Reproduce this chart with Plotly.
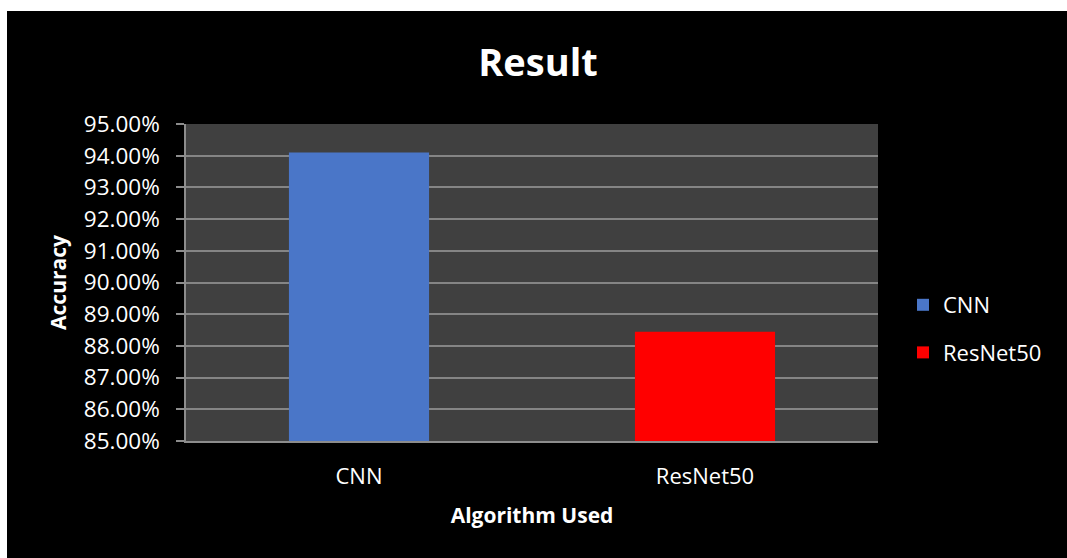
import plotly.graph_objects as go

categories = ["CNN", "ResNet50"]
accuracy = [0.941, 0.8845]
colors = ["#4a76c8", "#ff0000"]
y_ticks = [0.85, 0.86, 0.87, 0.88, 0.89, 0.90, 0.91, 0.92, 0.93, 0.94, 0.95]

W, H = 1067, 558
L, R, T, B = 186, 1067 - 878, 124, 558 - 441
pw, ph = W - L - R, H - T - B

FONT = "Open Sans"

fig = go.Figure()
for i, (c, v) in enumerate(zip(categories, accuracy)):
    fig.add_trace(go.Bar(
        x=[c], y=[v], name=c, marker=dict(color=colors[i], line=dict(width=0)),
        width=0.405, legendgroup=c,
    ))

def px2x(p):
    return (p - L) / pw

def px2y(p):
    return (H - B - p) / ph

# white frame strips (top & left) around the black chart area
fig.add_shape(type="rect", xref="paper", yref="paper", x0=px2x(0), x1=px2x(W), y0=px2y(0), y1=px2y(11),
              fillcolor="white", line=dict(width=0), layer="above")
fig.add_shape(type="rect", xref="paper", yref="paper", x0=px2x(0), x1=px2x(7), y0=px2y(0), y1=px2y(H),
              fillcolor="white", line=dict(width=0), layer="above")

fig.update_layout(
    width=W, height=H,
    margin=dict(l=L, r=R, t=T, b=B),
    paper_bgcolor="black", plot_bgcolor="#404040",
    barmode="overlay",
    font=dict(family=FONT, color="white", size=20),
    title=dict(text="<b>Result</b>", x=538 / W, xanchor="center", y=1 - 63 / H, yanchor="middle",
               font=dict(size=38, family=FONT, color="white")),
    legend=dict(x=px2x(903), xanchor="left", y=px2y(329), yanchor="middle",
                font=dict(size=22, family=FONT, color="white"), tracegroupgap=16,
                bgcolor="rgba(0,0,0,0)", itemwidth=30),
    showlegend=True,
)
fig.update_xaxes(
    showgrid=False, showline=True, linecolor="#8c8c8c", linewidth=1.5,
    ticks="", ticklabelstandoff=15, tickfont=dict(size=22, color="white"),
    title=dict(text="<b>Algorithm Used</b>", font=dict(size=21, color="white"), standoff=19),
)
fig.update_yaxes(
    range=[0.85, 0.95], tickvals=y_ticks, tickformat=".2%",
    showgrid=True, gridcolor="#858585", gridwidth=1.5,
    showline=True, linecolor="#8c8c8c", linewidth=1.5,
    ticks="outside", ticklen=8, tickcolor="#8c8c8c", tickwidth=1.5,
    ticklabelstandoff=12, tickfont=dict(size=22.5, color="white"),
    title=dict(text="<b>Accuracy</b>", font=dict(size=21, color="white"), standoff=11),
    zeroline=False,
)

fig.write_html(
    "out.html",
    config={"displayModeBar": False},
    post_script="document.body.style.margin='0';document.body.style.overflow='hidden';",
)
